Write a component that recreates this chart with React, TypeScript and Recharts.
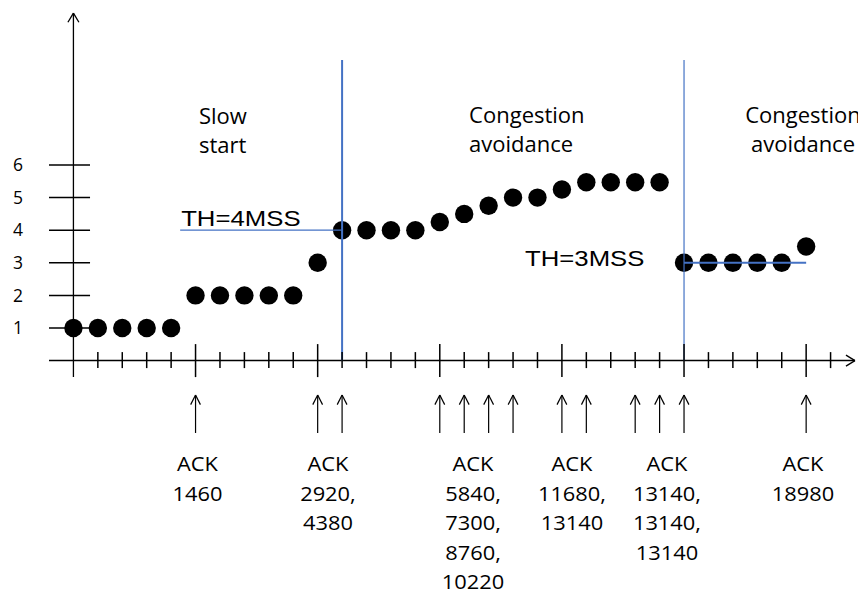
import React from 'react';
import { ComposedChart, Scatter, XAxis, YAxis, ReferenceLine, ReferenceDot } from 'recharts';

// ---- data ----
const cwnd = [1, 1, 1, 1, 1, 2, 2, 2, 2, 2, 3, 4, 4, 4, 4, 4.25, 4.5, 4.75, 5, 5, 5.25, 5.47, 5.47, 5.47, 5.47, 3, 3, 3, 3, 3, 3.5];
const yTicks = [1, 2, 3, 4, 5, 6];
const xTicks = [1, 2, 3, 4, 5, 6, 7, 8, 9, 10, 11, 12, 13, 14, 15, 16, 17, 18, 19, 20, 21, 22, 23, 24, 25, 26, 27, 28, 29, 30, 31];
const ackArrowAt = [5, 10, 11, 15, 16, 17, 18, 20, 21, 23, 24, 25, 30];
const ackLabels = [
  ['ACK', '1460'],
  ['ACK', '2920,', '4380'],
  ['ACK', '5840,', '7300,', '8760,', '10220'],
  ['ACK', '11680,', '13140'],
  ['ACK', '13140,', '13140,', '13140'],
  ['ACK', '18980'],
];
const phaseLabels = [['Slow', 'start'], ['Congestion', 'avoidance'], ['Congestion', 'avoidance']];
const phaseBoundaries = [11, 25];
const thresholdLabels = ['TH=4MSS', 'TH=3MSS'];
const thresholdValues = [4, 3];

const points = cwnd.map((v, i) => ({ x: i, y: v }));

// ---- layout (data-space anchors) ----
const BLUE = '#4472C4';
const ackCenters = [5.08, 10.42, 16.36, 20.41, 24.3, 29.87];
const ACK_BASE = -3.387;
const ACK_LINE = 29.5;
const phaseAnchors = [
  { x: 5.14, y: 7.26, anchor: 'start' },
  { x: 16.2, y: 7.29, anchor: 'start' },
  { x: 29.87, y: 7.29, anchor: 'middle' },
];
const thresholdSpans = [
  [4.37, 11],
  [25, 30],
];
const thresholdText = [
  { x: 4.41, y: 4.13 },
  { x: 18.49, y: 2.9 },
];
const BOUNDARY_TOP = 9.22;

const XTick = (props: any) => {
  const { x, y, payload } = props;
  const long = payload.value % 5 === 0;
  return (
    <line
      x1={x}
      x2={x}
      y1={y + (long ? -16.5 : -8.5)}
      y2={y + (long ? 16.5 : 7.5)}
      stroke="#000"
      strokeWidth={1.5}
    />
  );
};

const multiText = (lines: string[], anchor: string, family: string, size: number, lh: number, sx: number) =>
  (p: any) => (
    <g transform={`translate(${p.cx},${p.cy}) scale(${sx},1)`}>
      {lines.map((t, i) => (
        <text key={i} x={0} y={i * lh} textAnchor={anchor as any} fontFamily={family} fontSize={size} fill="#000">
          {t}
        </text>
      ))}
    </g>
  );

export default function App() {
  const seg = (a: [number, number], b: [number, number]) => [
    { x: a[0], y: a[1] },
    { x: b[0], y: b[1] },
  ];
  return (
    <div style={{ position: 'absolute', left: 0, top: 0, width: 858, height: 599, background: '#fff' }}>
      <ComposedChart width={858} height={599} data={points} margin={{ top: 2, right: 3, bottom: 208.4, left: 0 }}>
        <XAxis
          type="number"
          dataKey="x"
          domain={[-1, 32]}
          ticks={xTicks}
          interval={0}
          allowDataOverflow
          axisLine={{ stroke: '#000', strokeWidth: 1.5 }}
          tickLine={false}
          tickSize={0}
          tickMargin={0}
          tick={<XTick />}
          height={30}
        />
        <YAxis
          type="number"
          domain={[0, 11]}
          ticks={yTicks}
          allowDataOverflow
          width={49}
          axisLine={false}
          tickLine={false}
          tickSize={0}
          tickMargin={26}
          tick={{ fill: '#000', fontSize: 17.5, fontFamily: 'Open Sans' }}
        />

        {/* y axis with arrow */}
        <ReferenceLine segment={seg([0, -0.5], [0, 10.66])} stroke="#000" strokeWidth={1.3} ifOverflow="visible" />
        <ReferenceLine segment={seg([0, 10.66], [-0.225, 10.38])} stroke="#000" strokeWidth={1.3} ifOverflow="visible" />
        <ReferenceLine segment={seg([0, 10.66], [0.225, 10.38])} stroke="#000" strokeWidth={1.3} ifOverflow="visible" />
        {/* x axis arrow */}
        <ReferenceLine segment={seg([32, 0], [31.63, 0.169])} stroke="#000" strokeWidth={1.3} ifOverflow="visible" />
        <ReferenceLine segment={seg([32, 0], [31.63, -0.169])} stroke="#000" strokeWidth={1.3} ifOverflow="visible" />

        {/* y tick lines */}
        {yTicks.map((v) => (
          <ReferenceLine key={'yt' + v} segment={seg([-1, v], [0.68, v])} stroke="#000" strokeWidth={1.5} ifOverflow="visible" />
        ))}

        {/* ACK arrows */}
        {ackArrowAt.map((i) => (
          <ReferenceLine key={'a' + i} segment={seg([i, -1.055], [i, -2.22])} stroke="#000" strokeWidth={1.2} ifOverflow="visible" />
        ))}
        {ackArrowAt.map((i) => (
          <ReferenceLine key={'al' + i} segment={seg([i, -1.055], [i - 0.2, -1.35])} stroke="#000" strokeWidth={1.2} ifOverflow="visible" />
        ))}
        {ackArrowAt.map((i) => (
          <ReferenceLine key={'ar' + i} segment={seg([i, -1.055], [i + 0.2, -1.35])} stroke="#000" strokeWidth={1.2} ifOverflow="visible" />
        ))}

        <Scatter
          dataKey="y"
          isAnimationActive={false}
          shape={(p: any) => <circle cx={p.cx} cy={p.cy} r={9.2} fill="#000" />}
        />

        {/* phase boundaries */}
        {phaseBoundaries.map((b, i) => (
          <ReferenceLine
            key={'pb' + b}
            segment={seg([b, 0], [b, BOUNDARY_TOP])}
            stroke={BLUE}
            strokeWidth={i === 0 ? 2 : 1.2}
            ifOverflow="visible"
            zIndex={1000}
          />
        ))}
        {/* thresholds */}
        {thresholdValues.map((v, i) => (
          <ReferenceLine
            key={'th' + v}
            segment={seg([thresholdSpans[i][0], v], [thresholdSpans[i][1], v])}
            stroke={BLUE}
            strokeWidth={i === 0 ? 1.2 : 2}
            ifOverflow="visible"
            zIndex={1000}
          />
        ))}
        {thresholdLabels.map((t, i) => (
          <ReferenceDot
            key={'tht' + i}
            x={thresholdText[i].x}
            y={thresholdText[i].y}
            r={0}
            ifOverflow="visible"
            shape={multiText([t], 'start', 'Liberation Sans', 22, 0, 1.17)}
          />
        ))}

        {/* phase labels */}
        {phaseLabels.map((lines, i) => (
          <ReferenceDot
            key={'ph' + i}
            x={phaseAnchors[i].x}
            y={phaseAnchors[i].y}
            r={0}
            ifOverflow="visible"
            shape={multiText(lines, phaseAnchors[i].anchor, 'Open Sans', 22, 29.5, 1)}
          />
        ))}

        {/* ACK labels */}
        {ackLabels.map((lines, i) => (
          <ReferenceDot
            key={'ack' + i}
            x={ackCenters[i]}
            y={ACK_BASE}
            r={0}
            ifOverflow="visible"
            shape={multiText(lines, 'middle', 'Open Sans', 19.5, ACK_LINE, 1.12)}
          />
        ))}
      </ComposedChart>
    </div>
  );
}
